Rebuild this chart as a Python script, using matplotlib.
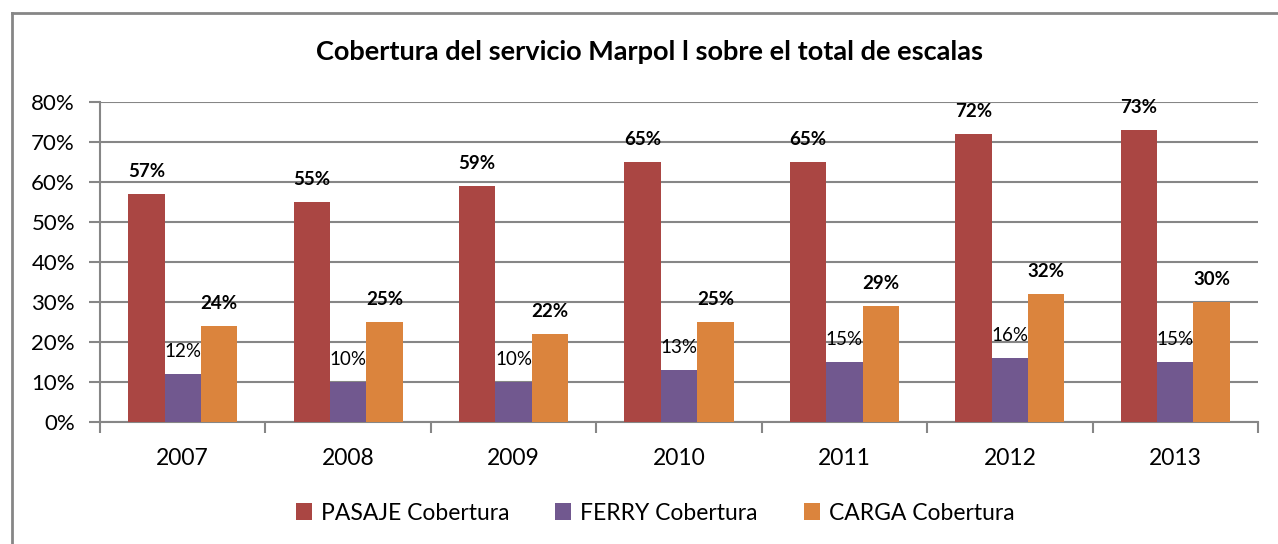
import numpy as np
import matplotlib.pyplot as plt
from matplotlib.lines import Line2D

# datos
years = ["2007", "2008", "2009", "2010", "2011", "2012", "2013"]
pasaje = [57, 55, 59, 65, 65, 72, 73]
ferry = [12, 10, 10, 13, 15, 16, 15]
carga = [24, 25, 22, 25, 29, 32, 30]

series = [
    ("PASAJE Cobertura", pasaje, "#AA4643", "bold"),
    ("FERRY Cobertura", ferry, "#71588F", "normal"),
    ("CARGA Cobertura", carga, "#DB843D", "bold"),
]

plt.rcParams["font.family"] = ["Lato", "DejaVu Sans"]
GRID = "#868686"

W, H = 1278, 544
fig = plt.figure(figsize=(W / 100, H / 100), dpi=100)
ax = fig.add_axes([100 / W, 1 - 422 / H, (1258 - 100) / W, (422 - 102) / H])

x = np.arange(len(years))
bw = 0.22
for i, (name, vals, color, weight) in enumerate(series):
    pos = x + (i - 1) * bw
    ax.bar(pos, vals, width=bw, color=color, label=name, zorder=3)
    for px, v in zip(pos, vals):
        ax.annotate(f"{v}%", (px, v), xytext=(0, 10), textcoords="offset points",
                    ha="center", va="bottom", fontsize=13.5, fontweight=weight)

ax.set_ylim(0, 80)
ax.set_xlim(-0.5, len(years) - 0.5)
ax.set_yticks(range(0, 81, 10))
ax.set_yticklabels([f"{v}%" for v in range(0, 81, 10)], fontsize=16)
ax.set_xticks(x)
ax.set_xticklabels(years, fontsize=16.5)
ax.set_xticks(np.arange(-0.5, len(years)), minor=True)
ax.tick_params(axis="x", which="major", length=0, pad=19)
ax.tick_params(axis="x", which="minor", length=8, width=1.5, color=GRID)
ax.tick_params(axis="y", length=8, width=1.5, color=GRID, pad=10)
ax.grid(axis="y", color=GRID, lw=1.5, zorder=0)
for s in ["top", "right"]:
    ax.spines[s].set_visible(False)
for s in ["left", "bottom"]:
    ax.spines[s].set_color(GRID)
    ax.spines[s].set_linewidth(1.5)

fig.text(650 / W, 1 - 52 / H, "Cobertura del servicio Marpol l sobre el total de escalas",
         ha="center", va="center", fontsize=19.5, fontweight="bold")

fig.legend(loc="center", bbox_to_anchor=(655 / W, 1 - 513 / H), ncol=3, frameon=False,
           fontsize=16.5, handlelength=0.7, handleheight=0.7, handletextpad=0.4,
           columnspacing=2.0)

# marco exterior
fig.add_artist(Line2D([12 / W, 12 / W], [0, 1 - 13 / H], color=GRID, lw=2))
fig.add_artist(Line2D([12 / W, 1], [1 - 13 / H, 1 - 13 / H], color=GRID, lw=2))

fig.savefig("out.png", dpi=100)
